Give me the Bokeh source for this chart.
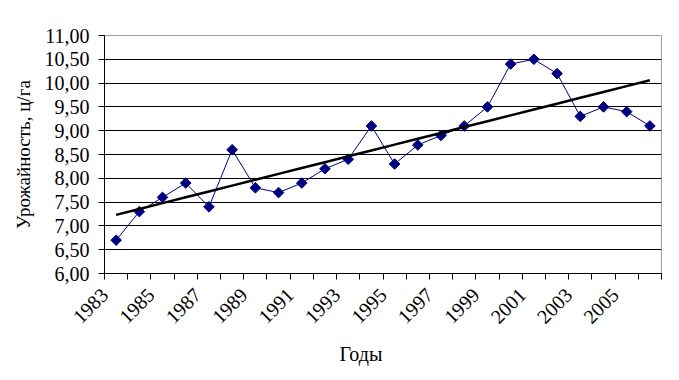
import math
import numpy as np
from bokeh.plotting import figure
from bokeh.models import FixedTicker, Range1d, Title, CustomJSTickFormatter
from bokeh.embed import file_html
from bokeh.resources import INLINE

years = list(range(1983, 2007))
yields = [6.7, 7.3, 7.6, 7.9, 7.4, 8.6, 7.8, 7.7, 7.9, 8.2, 8.4, 9.1,
          8.3, 8.7, 8.9, 9.1, 9.5, 10.4, 10.5, 10.2, 9.3, 9.5, 9.4, 9.1]
y_ticks = [6.0, 6.5, 7.0, 7.5, 8.0, 8.5, 9.0, 9.5, 10.0, 10.5, 11.0]
x_title = "Годы"
y_title = "Урожайность, ц/га"

idx = list(range(len(years)))
slope, intercept = np.polyfit(idx, yields, 1)
trend = [intercept + slope * i for i in idx]

FONT = "Liberation Serif"

p = figure(width=671, height=372, output_backend="svg", toolbar_location=None,
           x_range=Range1d(-0.5, len(years) - 0.5), y_range=Range1d(6, 11),
           min_border_left=104, min_border_right=10, min_border_top=35,
           min_border_bottom=10)
p.background_fill_color = "white"
p.border_fill_color = "white"
p.outline_line_color = "#a0a0a0"

# x axis: labels anchored half a category left of each labelled point
label_pos = [i - 0.5 for i in idx[::2]]
p.xaxis.ticker = FixedTicker(ticks=label_pos,
                             minor_ticks=[i - 0.5 for i in idx] + [len(years) - 0.5])
p.xaxis.formatter = CustomJSTickFormatter(args=dict(start=years[0]),
                                          code="return String(Math.round(tick + 0.5) + start);")
p.xaxis.major_tick_out = 0
p.xaxis.major_tick_in = 0
p.xaxis.minor_tick_out = 6
p.xaxis.minor_tick_in = 0
p.xaxis.minor_tick_line_color = "black"
p.xaxis.axis_line_color = "black"
p.xaxis.major_label_orientation = math.pi / 4
p.xaxis.major_label_text_font = FONT
p.xaxis.major_label_text_font_size = "20px"
p.xaxis.major_label_text_color = "black"
p.xaxis.major_label_standoff = 12

# y axis
p.yaxis.ticker = FixedTicker(ticks=y_ticks)
p.yaxis.formatter = CustomJSTickFormatter(code="return tick.toFixed(2).replace('.', ',');")
p.yaxis.major_tick_out = 6
p.yaxis.major_tick_in = 0
p.yaxis.minor_tick_line_color = None
p.yaxis.axis_line_color = "black"
p.yaxis.major_tick_line_color = "black"
p.yaxis.major_label_text_font = FONT
p.yaxis.major_label_text_font_size = "20px"
p.yaxis.major_label_text_color = "black"
p.yaxis.major_label_standoff = 9
p.yaxis.axis_label = y_title
p.yaxis.axis_label_text_font = FONT
p.yaxis.axis_label_text_font_size = "19px"
p.yaxis.axis_label_text_font_style = "normal"
p.yaxis.axis_label_text_color = "black"
p.yaxis.axis_label_standoff = 8

p.xgrid.grid_line_color = None
p.ygrid.ticker = FixedTicker(ticks=y_ticks[1:-1])
p.ygrid.grid_line_color = "black"
p.ygrid.grid_line_width = 1

p.line(idx, yields, line_color="#000080", line_width=1)
p.scatter(idx, yields, marker="square", size=7.5, angle=math.pi / 4,
          fill_color="#000080", line_color="#000080")
p.line(idx, trend, line_color="black", line_width=2.5)

p.add_layout(Title(text=x_title, align="left", offset=235, text_font=FONT,
                   text_font_size="20px", text_font_style="normal",
                   text_color="black", standoff=16), "below")

open("out.html", "w").write(file_html(p, INLINE))
